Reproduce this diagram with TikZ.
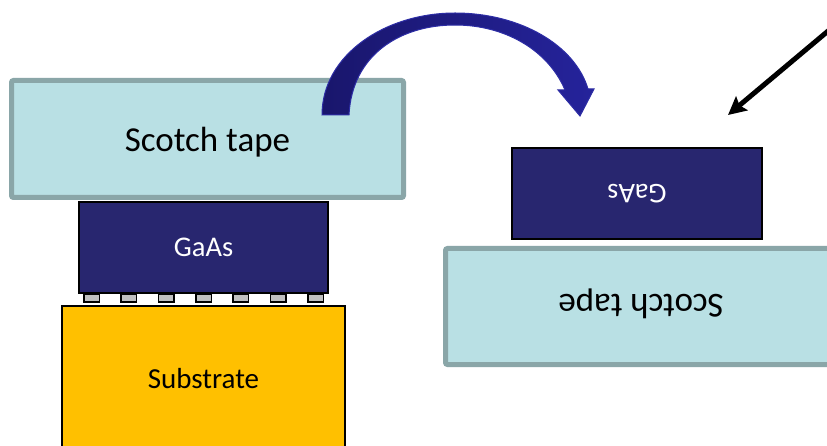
\documentclass[tikz,border=0pt]{standalone}
\usepackage{fontspec}
\setmainfont{Carlito}
\usetikzlibrary{arrows.meta}
\definecolor{tapefill}{RGB}{185,224,228}
\definecolor{tapeline}{RGB}{138,166,168}
\definecolor{gaasfill}{RGB}{40,38,111}
\definecolor{subfill}{RGB}{255,192,0}
\definecolor{padfill}{RGB}{192,192,192}
\definecolor{arrowdark}{RGB}{25,22,108}
\definecolor{arrowlight}{RGB}{37,35,155}
\definecolor{arrowedge}{RGB}{45,45,165}
\begin{document}
\begin{tikzpicture}[x=1pt,y=-1pt,
  tapebox/.style={draw=tapeline, fill=tapefill, line width=5pt, rounded corners=2pt,
    minimum width=392pt, minimum height=117pt, inner sep=0pt, text depth=0pt,
    font=\fontsize{35}{42}\selectfont, text=black},
  gaasbox/.style={draw=black, fill=gaasfill, line width=2pt,
    minimum width=250pt, minimum height=91pt, inner sep=0pt, text depth=0pt,
    font=\fontsize{28.5}{34}\selectfont, text=white},
  subbox/.style={draw=black, fill=subfill, line width=2pt,
    minimum width=283pt, minimum height=200pt, inner sep=0pt},
  padbox/.style={draw=black, fill=padfill, line width=1.5pt,
    minimum width=15.5pt, minimum height=7.5pt, inner sep=0pt},
  curvarrow/.style={left color=arrowdark, right color=arrowlight, draw=arrowedge, line width=1pt},
  pointer/.style={draw=black, line width=5pt, -{Stealth[length=18pt,width=18pt,inset=3pt]}}
]
\clip (0,0) rectangle (827,446);
\fill[white] (0,0) rectangle (827,446);

% left stack
\node[tapebox] (tapeL) at (207.5,139) {Scotch tape};
\node[gaasbox, minimum width=249pt] (gaasL) at (203.5,247.5) {GaAs};
\node[subbox] (sub) at (203.5,406) {};
\node[font=\fontsize{29}{35}\selectfont, text depth=0pt, inner sep=0pt] (subtext) at (203.5,378) {Substrate};
\foreach \i in {0,...,6}{
  \node[padbox] (pad\i) at ({91.5+\i*37.333},298.5) {};
}

% right stack (flipped)
\node[tapebox, rotate=180, minimum width=391pt, minimum height=116pt] (tapeR) at (641,306.5) {Scotch tape};
\node[gaasbox, rotate=180] (gaasR) at (637,193.5) {GaAs};

% curved block arrow
\shade[curvarrow]
  (322,115) .. controls (322,55) and (385,13) .. (455,13)
  .. controls (520,13) and (575,45) .. (588,89)
  -- (594,89) -- (580,116) -- (558,90) -- (565,90)
  .. controls (548,50) and (505,25) .. (455,25)
  .. controls (400,25) and (352,55) .. (349,115) -- cycle;

% black pointer arrow
\coordinate (pstart) at (840,21);
\coordinate (ptip) at (728,115);
\draw[pointer] (pstart) -- (ptip);
\end{tikzpicture}
\end{document}
